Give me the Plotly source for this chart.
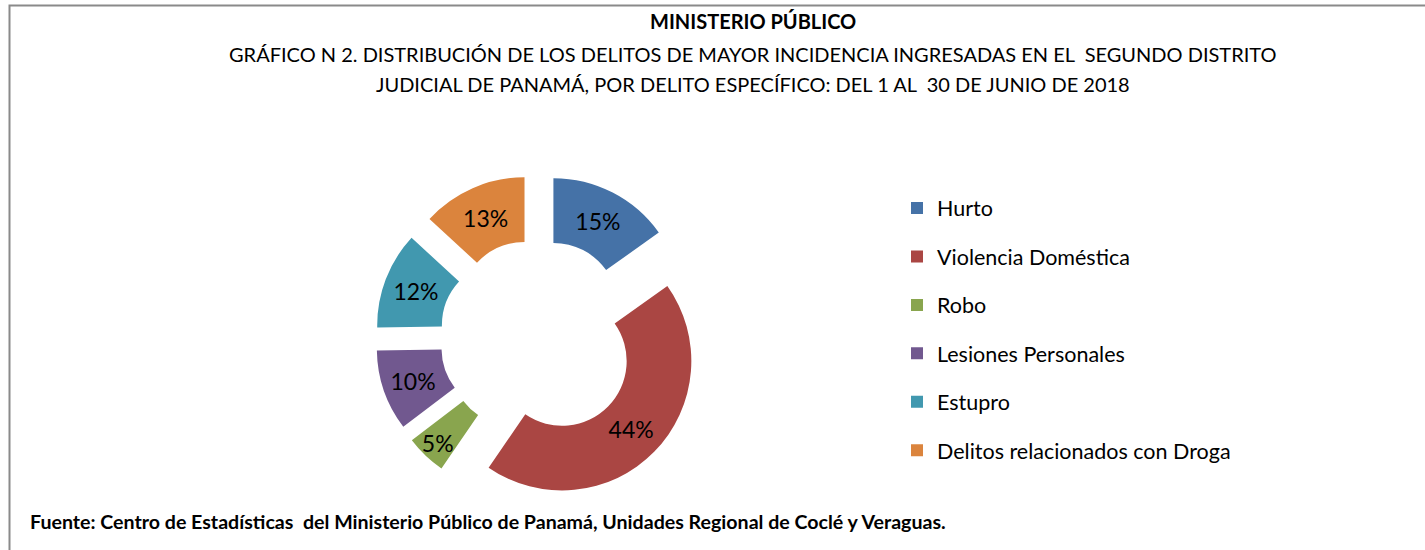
import plotly.graph_objects as go

categorias = ["Hurto", "Violencia Doméstica", "Robo", "Lesiones Personales", "Estupro",
              "Delitos relacionados con Droga"]
porcentajes = [15, 44, 5, 10, 12, 13]
colores = ["#4572A7", "#AA4643", "#89A54E", "#71588F", "#4198AF", "#DB843D"]

titulo = "MINISTERIO PÚBLICO"
subtitulo_1 = "GRÁFICO N 2. DISTRIBUCIÓN DE LOS DELITOS DE MAYOR INCIDENCIA INGRESADAS EN EL  SEGUNDO DISTRITO"
subtitulo_2 = "JUDICIAL DE PANAMÁ, POR DELITO ESPECÍFICO: DEL 1 AL  30 DE JUNIO DE 2018"
fuente = "Fuente: Centro de Estadísticas  del Ministerio Público de Panamá, Unidades Regional de Coclé y Veraguas."

W, H = 1425, 550
FONT = "Lato, Carlito, Calibri, sans-serif"

# pie placement (pixels)
CX, CY, HALF = 538, 337.5, 163

fig = go.Figure()

fig.add_trace(go.Pie(
    labels=categorias,
    values=porcentajes,
    marker=dict(colors=colores, line=dict(width=0)),
    hole=0.5,
    pull=[0.26] * len(categorias),
    sort=False,
    direction="clockwise",
    rotation=0,
    texttemplate="%{value}%",
    textposition="inside",
    insidetextorientation="horizontal",
    textfont=dict(family=FONT, size=23, color="#000000"),
    showlegend=False,
    hoverinfo="label+percent",
    domain=dict(x=[(CX - HALF) / W, (CX + HALF) / W],
                y=[(H - CY - HALF) / H, (H - CY + HALF) / H]),
))

for i, (cat, col) in enumerate(zip(categorias, colores)):
    fig.add_trace(go.Scatter(
        x=[None], y=[None], mode="markers", name=cat,
        marker=dict(symbol="square", size=12, color=col),
        legendgroup=f"g{i}", showlegend=True,
    ))

fig.add_annotation(text=f"<b>{titulo}</b>", x=753 / W, y=1 - 21 / H, xref="paper", yref="paper",
                   showarrow=False, xanchor="center", yanchor="middle",
                   font=dict(family=FONT, size=20, color="#000000"))
fig.add_annotation(text=subtitulo_1, x=753 / W, y=1 - 54 / H, xref="paper", yref="paper",
                   showarrow=False, xanchor="center", yanchor="middle",
                   font=dict(family=FONT, size=20, color="#000000"))
fig.add_annotation(text=subtitulo_2, x=753 / W, y=1 - 84 / H, xref="paper", yref="paper",
                   showarrow=False, xanchor="center", yanchor="middle",
                   font=dict(family=FONT, size=20, color="#000000"))
fig.add_annotation(text=f"<b>{fuente}</b>", x=28 / W, y=1 - 521 / H, xref="paper", yref="paper",
                   showarrow=False, xanchor="left", yanchor="middle",
                   font=dict(family=FONT, size=19.6, color="#000000"))

fig.add_shape(type="rect", xref="paper", yref="paper",
              x0=9.5 / W, x1=1.02, y0=-0.02, y1=1 - 5.5 / H,
              line=dict(color="#8a8a8a", width=2), fillcolor="rgba(0,0,0,0)", layer="above")

fig.update_layout(
    width=W, height=H,
    margin=dict(l=0, r=0, t=0, b=0),
    paper_bgcolor="#ffffff", plot_bgcolor="#ffffff",
    xaxis=dict(visible=False), yaxis=dict(visible=False),
    legend=dict(x=897 / W, y=1 - 187.5 / H, xanchor="left", yanchor="top",
                font=dict(family=FONT, size=21.5, color="#000000"),
                tracegroupgap=17.5, bgcolor="rgba(0,0,0,0)"),
    uniformtext=dict(mode="show", minsize=23),
    font=dict(family=FONT),
)

fig.write_html("out.html", config={"displayModeBar": False},
               post_script="document.body.style.margin='0px';")
